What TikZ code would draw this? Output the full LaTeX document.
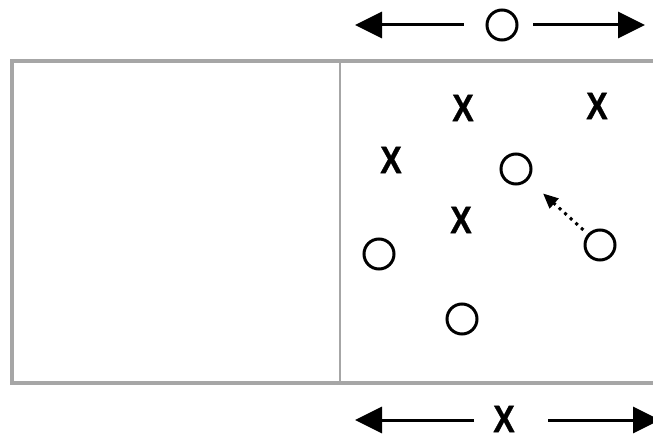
\documentclass[tikz,border=0pt]{standalone}
\usepackage{fontspec}
\setmainfont{Liberation Sans}
\newfontfamily\xfont{Liberation Sans}[UprightFont=* Bold, FakeBold=1]
\usetikzlibrary{arrows.meta}
\definecolor{framegray}{HTML}{A6A6A6}
\begin{document}
\begin{tikzpicture}[x=1pt,y=-1pt,
  ring/.style={circle,draw,line width=3pt,minimum size=30pt,inner sep=0pt},
  xmark/.style={font=\xfont\fontsize{38}{38}\selectfont,inner sep=0pt},
  bigarrow/.style={line width=3pt,-{Triangle[length=27pt,width=26pt]}},
  dotarrow/.style={line width=3pt,dash pattern=on 3pt off 4.5pt,-{Triangle[length=15pt,width=13pt]}},
  frame/.style={draw=framegray,line width=3.5pt},
  divider/.style={draw=framegray,line width=1.5pt}]
\useasboundingbox (0,0) rectangle (653,438);
\clip (0,0) rectangle (653,438);
% field
\draw[frame] (12,61) rectangle (700,383);
\coordinate (dtop) at (340,61);
\coordinate (dbot) at (340,383);
\draw[divider] (dtop) -- (dbot);
% circles
\node[ring] (topO) at (502,25) {};
\node[ring] (c1) at (516,169) {};
\node[ring] (c2) at (379,254) {};
\node[ring] (c3) at (600,245) {};
\node[ring] (c4) at (462,319) {};
% crosses
\node[xmark] (x1) at (463,108) {\scalebox{0.84}[1]{X}};
\node[xmark] (x2) at (391,160) {\scalebox{0.84}[1]{X}};
\node[xmark] (x3) at (461,220) {\scalebox{0.84}[1]{X}};
\node[xmark] (x4) at (597,106) {\scalebox{0.84}[1]{X}};
\node[xmark] (xb) at (504,419) {\scalebox{0.84}[1]{X}};
% top arrows
\coordinate (tl) at (355,25);
\coordinate (tr) at (645,25);
\draw[bigarrow,shorten <=22pt] (topO) -- (tl);
\draw[bigarrow,shorten <=14.5pt] (topO) -- (tr);
% bottom arrows
\coordinate (bl) at (355,420);
\coordinate (br) at (660,420);
\draw[bigarrow,shorten <=30pt] (xb.center |- bl) -- (bl);
\draw[bigarrow,shorten <=44pt] (xb.center |- br) -- (br);
% dotted move
\draw[dotarrow,shorten <=6pt,shorten >=20pt] (c3) -- (c1);
\end{tikzpicture}
\end{document}
